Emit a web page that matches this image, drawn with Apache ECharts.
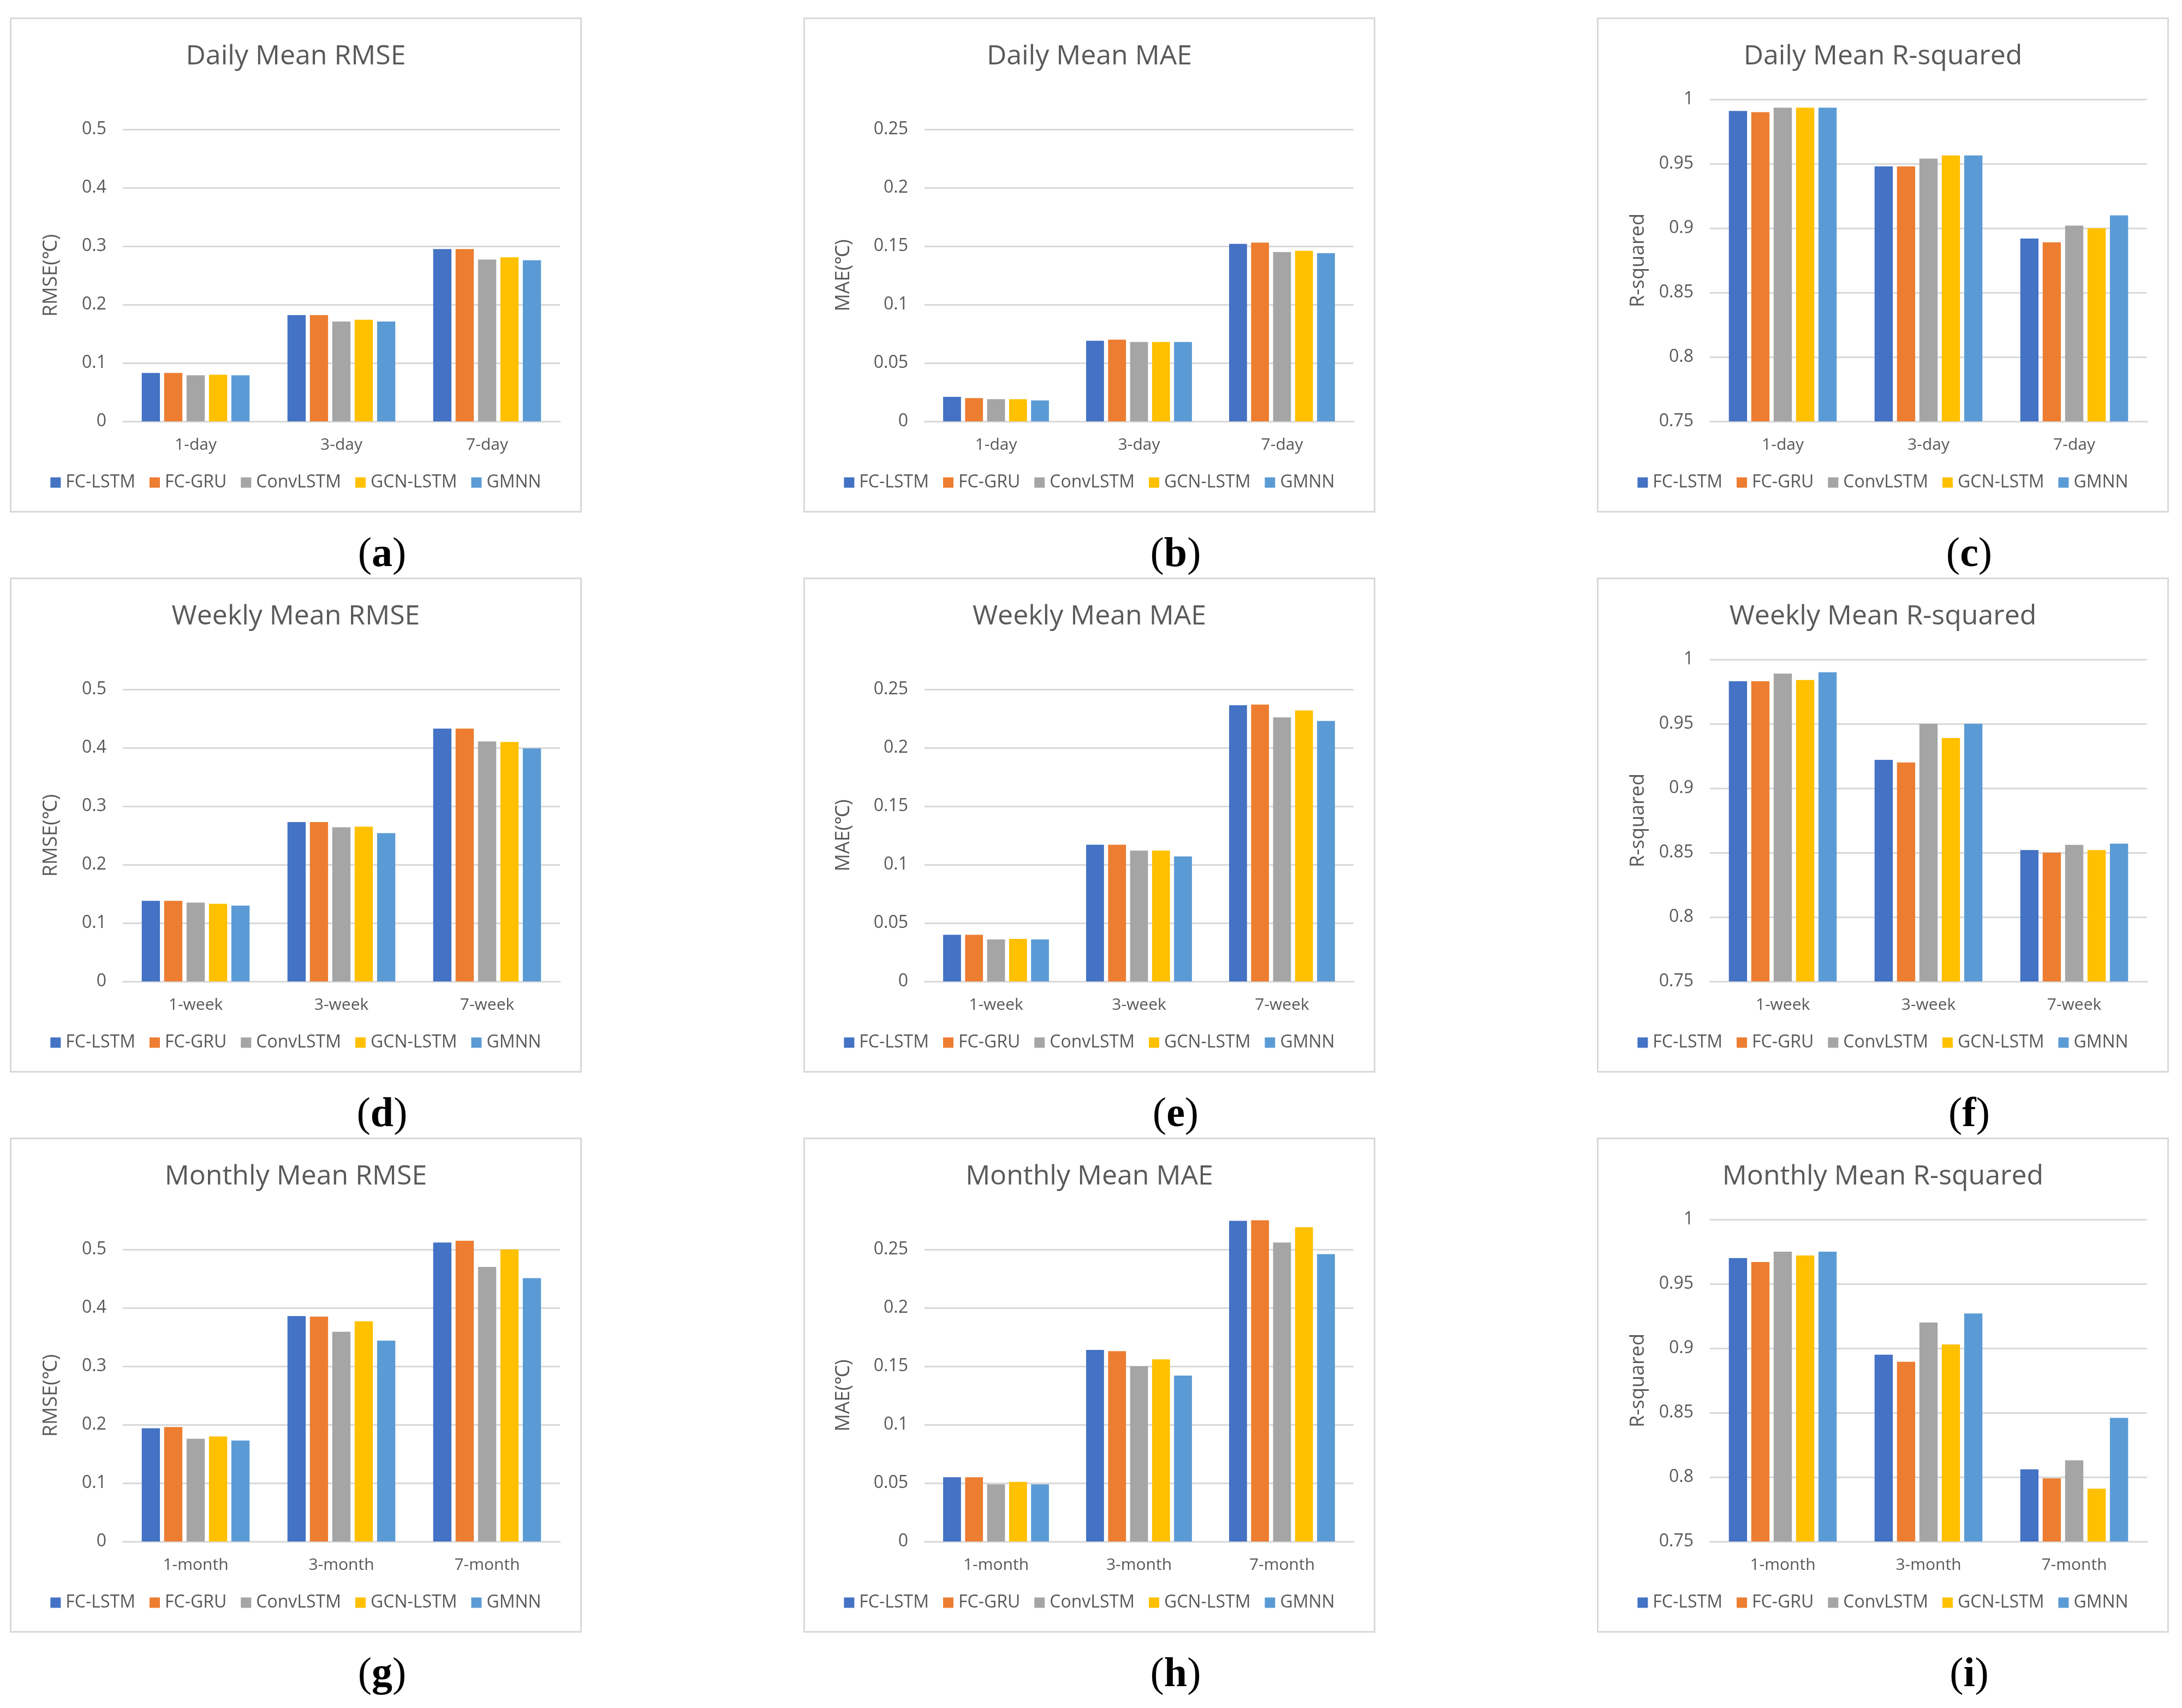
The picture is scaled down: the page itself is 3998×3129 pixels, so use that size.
<!DOCTYPE html>
<html>
<head>
<meta charset="utf-8">
<script src="https://cdn.jsdelivr.net/npm/echarts@6/dist/echarts.min.js"></script>
<style>
  html, body { margin: 0; padding: 0; background: #ffffff; }
  body { width: 3998px; height: 3129px; position: relative; overflow: hidden; }
  .panel { position: absolute; width: 1048px; height: 907px; }
  .plabel { position: absolute; font-family: "Liberation Serif", "DejaVu Serif", serif; font-size: 76px; color: #000; transform: translate(-50%, -50%); white-space: nowrap; line-height: 1; }
  .plabel b { font-weight: bold; }
</style>
</head>
<body>
<script>
// ---- categories / series names ----
const models = ['FC-LSTM', 'FC-GRU', 'ConvLSTM', 'GCN-LSTM', 'GMNN'];
const dayCats = ['1-day', '3-day', '7-day'];
const weekCats = ['1-week', '3-week', '7-week'];
const monthCats = ['1-month', '3-month', '7-month'];

// ---- axis ranges [min, max, interval] ----
const rmseAxis = [0, 0.5, 0.1];
const maeAxis = [0, 0.25, 0.05];
const r2Axis = [0.75, 1, 0.05];

// ---- values: rows in model order (FC-LSTM, FC-GRU, ConvLSTM, GCN-LSTM, GMNN) ----
const dailyRmse = [
  [0.083, 0.182, 0.295],
  [0.083, 0.182, 0.295],
  [0.079, 0.171, 0.277],
  [0.080, 0.174, 0.281],
  [0.079, 0.171, 0.276]
];
const dailyMae = [
  [0.021, 0.069, 0.152],
  [0.020, 0.070, 0.153],
  [0.019, 0.068, 0.145],
  [0.019, 0.068, 0.146],
  [0.018, 0.068, 0.144]
];
const dailyR2 = [
  [0.991, 0.948, 0.892],
  [0.990, 0.948, 0.889],
  [0.9935, 0.954, 0.902],
  [0.9935, 0.9565, 0.900],
  [0.9935, 0.9565, 0.910]
];
const weeklyRmse = [
  [0.138, 0.273, 0.433],
  [0.138, 0.273, 0.433],
  [0.135, 0.264, 0.411],
  [0.133, 0.265, 0.410],
  [0.130, 0.254, 0.399]
];
const weeklyMae = [
  [0.040, 0.117, 0.2365],
  [0.040, 0.117, 0.237],
  [0.036, 0.112, 0.226],
  [0.0365, 0.112, 0.232],
  [0.036, 0.107, 0.223]
];
const weeklyR2 = [
  [0.983, 0.922, 0.852],
  [0.983, 0.920, 0.850],
  [0.989, 0.950, 0.856],
  [0.984, 0.939, 0.852],
  [0.990, 0.950, 0.857]
];
const monthlyRmse = [
  [0.194, 0.386, 0.512],
  [0.196, 0.385, 0.515],
  [0.176, 0.359, 0.470],
  [0.180, 0.377, 0.500],
  [0.173, 0.344, 0.451]
];
const monthlyMae = [
  [0.055, 0.164, 0.2745],
  [0.055, 0.163, 0.275],
  [0.049, 0.150, 0.256],
  [0.051, 0.156, 0.269],
  [0.049, 0.142, 0.246]
];
const monthlyR2 = [
  [0.970, 0.895, 0.806],
  [0.967, 0.8895, 0.799],
  [0.975, 0.920, 0.813],
  [0.972, 0.903, 0.791],
  [0.975, 0.927, 0.846]
];

// ---- titles / labels ----
const titles = [
  'Daily Mean RMSE', 'Daily Mean MAE', 'Daily Mean R-squared',
  'Weekly Mean RMSE', 'Weekly Mean MAE', 'Weekly Mean R-squared',
  'Monthly Mean RMSE', 'Monthly Mean MAE', 'Monthly Mean R-squared'
];
const panelLetters = ['a', 'b', 'c', 'd', 'e', 'f', 'g', 'h', 'i'];
const yNames = ['RMSE(℃)', 'MAE(℃)', 'R-squared'];

// ---- styling / layout ----
const colors = ['#4472C4', '#ED7D31', '#A5A5A5', '#FFC000', '#5B9BD5'];
const colLefts = [18, 1472, 2926];
const rowTops = [32, 1058, 2084];
const textColor = '#595959';
const lineColor = '#d9d9d9';
const fontFamily = '"Open Sans", "Noto Sans", sans-serif';

const panelData = [dailyRmse, dailyMae, dailyR2, weeklyRmse, weeklyMae, weeklyR2, monthlyRmse, monthlyMae, monthlyR2];
const panelCats = [dayCats, dayCats, dayCats, weekCats, weekCats, weekCats, monthCats, monthCats, monthCats];
const panelAxes = [rmseAxis, maeAxis, r2Axis];

for (let p = 0; p < 9; p++) {
  const row = Math.floor(p / 3), col = p % 3;
  const kind = col; // 0 rmse, 1 mae, 2 r2
  const left = colLefts[col], top = rowTops[row];

  const div = document.createElement('div');
  div.className = 'panel';
  div.style.left = left + 'px';
  div.style.top = top + 'px';
  document.body.appendChild(div);

  const lab = document.createElement('div');
  lab.className = 'plabel';
  lab.style.left = (left + 682) + 'px';
  lab.style.top = (top + 979) + 'px';
  lab.innerHTML = '(<b>' + panelLetters[p] + '</b>)';
  document.body.appendChild(lab);

  const ax = panelAxes[kind];
  const gridLeft = kind === 1 ? 222 : 207;
  const gridTop = kind === 2 ? 150 : 205;
  const nameGap = kind === 1 ? 130 : 113;

  const chart = echarts.init(div, null, { renderer: 'canvas', width: 1048, height: 907 });
  chart.setOption({
    animation: false,
    backgroundColor: '#ffffff',
    color: colors,
    textStyle: { fontFamily: fontFamily },
    graphic: [{
      type: 'rect',
      shape: { x: 1.5, y: 1.5, width: 1045, height: 904 },
      style: { fill: 'none', stroke: lineColor, lineWidth: 3 },
      silent: true
    }],
    title: {
      text: titles[p],
      left: 'center',
      top: 42,
      textStyle: { fontSize: 50, fontWeight: 'normal', color: textColor, fontFamily: fontFamily }
    },
    legend: {
      data: models,
      left: 'center',
      top: 836,
      icon: 'rect',
      itemWidth: 19,
      itemHeight: 19,
      itemGap: 26,
      padding: 0,
      textStyle: { fontSize: 32, color: textColor, fontFamily: fontFamily, padding: [0, 0, 0, 4] }
    },
    grid: { left: gridLeft, right: 40, top: gridTop, bottom: 167 },
    xAxis: {
      type: 'category',
      data: panelCats[p],
      axisLine: { lineStyle: { color: lineColor, width: 3 } },
      axisTick: { show: false },
      axisLabel: { fontSize: 30, color: textColor, margin: 28, fontFamily: fontFamily }
    },
    yAxis: {
      type: 'value',
      min: ax[0],
      max: ax[1],
      interval: ax[2],
      name: yNames[kind],
      nameLocation: 'middle',
      nameGap: nameGap,
      nameTextStyle: { fontSize: 36, color: textColor, fontFamily: fontFamily },
      axisLine: { show: false },
      axisTick: { show: false },
      axisLabel: { fontSize: 32, color: textColor, margin: 30, fontFamily: fontFamily },
      splitLine: { lineStyle: { color: lineColor, width: 3 } }
    },
    series: models.map((m, i) => ({
      name: m,
      type: 'bar',
      data: panelData[p][i],
      clip: kind === 2,
      barGap: '23%',
      barCategoryGap: '26%',
      itemStyle: { color: colors[i] }
    }))
  });
}
</script>
</body>
</html>
